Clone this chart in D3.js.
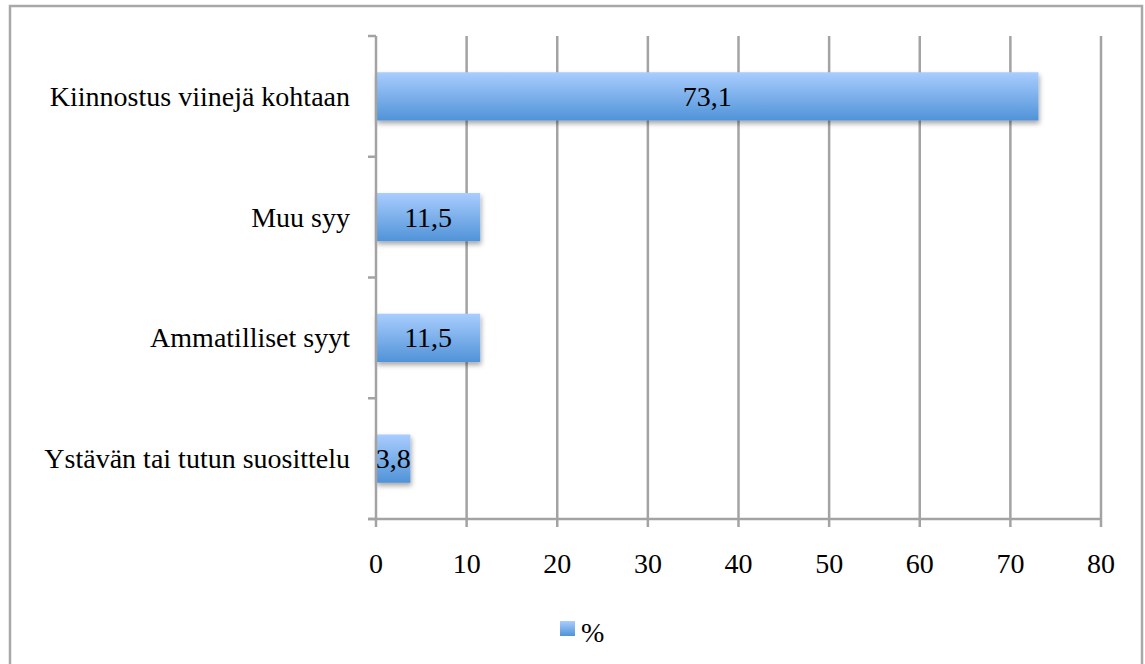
<!DOCTYPE html>
<html>
<head>
<meta charset="utf-8">
<script src="https://cdn.jsdelivr.net/npm/d3@7"></script>
<style>
  html, body { margin: 0; padding: 0; background: #fff; }
  svg { display: block; }
  text { font-family: "Liberation Serif", "DejaVu Serif", serif; fill: #000; }
</style>
</head>
<body>
<svg id="chart" width="1145" height="664"></svg>
<script>
// Reasons for interest (%), drawn top to bottom
const categories = [
  "Kiinnostus viinejä kohtaan",
  "Muu syy",
  "Ammatilliset syyt",
  "Ystävän tai tutun suosittelu"
];
const values = [73.1, 11.5, 11.5, 3.8];
const valueLabels = ["73,1", "11,5", "11,5", "3,8"];
const xTicks = [0, 10, 20, 30, 40, 50, 60, 70, 80];
const seriesName = "%";

const svg = d3.select("#chart");
const W = 1145, H = 664;
const plot = { left: 376, right: 1101, top: 36, bottom: 519 };
const gridColor = "#a3a3a3";
const fontSize = 28;

const defs = svg.append("defs");
const grad = defs.append("linearGradient")
  .attr("id", "barFill").attr("x1", 0).attr("y1", 0).attr("x2", 0).attr("y2", 1);
grad.append("stop").attr("offset", "0%").attr("stop-color", "#a9cdfe");
grad.append("stop").attr("offset", "100%").attr("stop-color", "#5093d8");

const shadow = defs.append("filter").attr("id", "barShadow")
  .attr("x", "-10%").attr("y", "-20%").attr("width", "130%").attr("height", "160%");
shadow.append("feDropShadow")
  .attr("dx", 1).attr("dy", 3).attr("stdDeviation", 2.5)
  .attr("flood-color", "#000").attr("flood-opacity", 0.35);

// outer frame
svg.append("rect")
  .attr("x", 10).attr("y", 6).attr("width", W - 13).attr("height", H + 10)
  .attr("fill", "none").attr("stroke", "#a8a8a8").attr("stroke-width", 2.5);

const x = d3.scaleLinear().domain([0, 80]).range([plot.left, plot.right]);
const y = d3.scaleBand().domain(categories).range([plot.top, plot.bottom])
  .paddingInner(0.6).paddingOuter(0.3);
const yEdges = d3.scaleLinear().domain([0, categories.length]).range([plot.top, plot.bottom]);

// vertical gridlines
svg.append("g").selectAll("line").data(xTicks.slice(1)).join("line")
  .attr("x1", d => x(d)).attr("x2", d => x(d))
  .attr("y1", plot.top).attr("y2", plot.bottom + 8)
  .attr("stroke", gridColor).attr("stroke-width", 2.5);

// bars
svg.append("g").selectAll("rect").data(values).join("rect")
  .attr("x", x(0))
  .attr("y", (d, i) => y(categories[i]))
  .attr("width", d => x(d) - x(0))
  .attr("height", y.bandwidth())
  .attr("fill", "url(#barFill)")
  .attr("filter", "url(#barShadow)");

// value labels
svg.append("g").selectAll("text").data(values).join("text")
  .attr("x", d => (x(0) + x(d)) / 2)
  .attr("y", (d, i) => y(categories[i]) + y.bandwidth() / 2)
  .attr("text-anchor", "middle").attr("dominant-baseline", "central")
  .attr("font-size", fontSize)
  .text((d, i) => valueLabels[i]);

// y axis line with ticks at category boundaries
svg.append("line")
  .attr("x1", plot.left).attr("x2", plot.left)
  .attr("y1", plot.top).attr("y2", plot.bottom + 8)
  .attr("stroke", gridColor).attr("stroke-width", 2.5);
svg.append("g").selectAll("line").data(d3.range(categories.length + 1)).join("line")
  .attr("x1", plot.left - 8).attr("x2", plot.left)
  .attr("y1", d => yEdges(d)).attr("y2", d => yEdges(d))
  .attr("stroke", gridColor).attr("stroke-width", 2.5);

// x axis line
svg.append("line")
  .attr("x1", plot.left - 8).attr("x2", plot.right)
  .attr("y1", plot.bottom).attr("y2", plot.bottom)
  .attr("stroke", gridColor).attr("stroke-width", 2.5);

// x tick labels
svg.append("g").selectAll("text").data(xTicks).join("text")
  .attr("x", d => x(d)).attr("y", 563)
  .attr("text-anchor", "middle").attr("dominant-baseline", "central")
  .attr("font-size", fontSize)
  .text(d => d);

// category labels
svg.append("g").selectAll("text").data(categories).join("text")
  .attr("x", 350)
  .attr("y", d => y(d) + y.bandwidth() / 2)
  .attr("text-anchor", "end").attr("dominant-baseline", "central")
  .attr("font-size", fontSize)
  .text(d => d);

// legend
const lg = svg.append("g");
lg.append("rect").attr("x", 560).attr("y", 621).attr("width", 15).attr("height", 15)
  .attr("fill", "url(#barFill)");
lg.append("text").attr("x", 581).attr("y", 632)
  .attr("dominant-baseline", "central").attr("font-size", fontSize)
  .text(seriesName);
</script>
</body>
</html>
